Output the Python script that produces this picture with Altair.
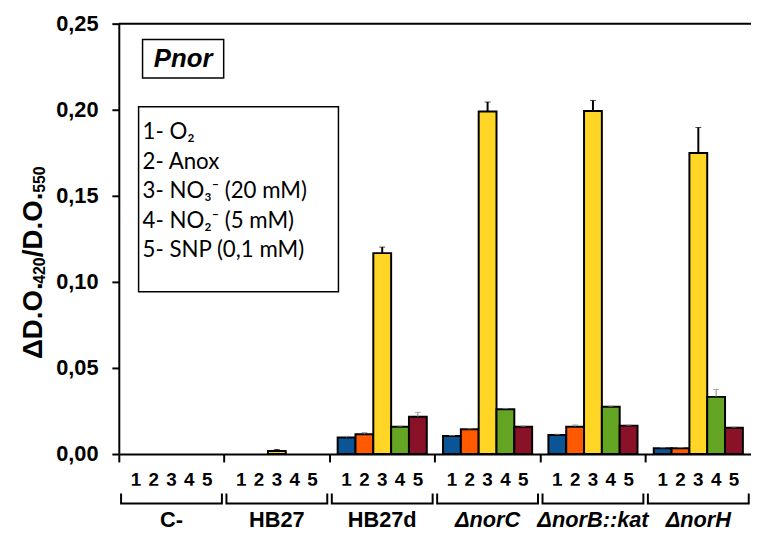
import altair as alt
import pandas as pd

# ---------------- data ----------------
strains = ["C-", "HB27", "HB27d", "ΔnorC", "ΔnorB::kat", "ΔnorH"]
italic_strains = ["ΔnorC", "ΔnorB::kat", "ΔnorH"]
conditions = ["1", "2", "3", "4", "5"]
cond_colors = ["#0B5596", "#FF5A00", "#FFD625", "#64A523", "#8A1228"]

c_minus_vals = [0.0, 0.0, 0.0, 0.0, 0.0]
hb27_vals = [0.0, 0.0, 0.0018, 0.0, 0.0]
hb27d_vals = [0.0096, 0.0115, 0.1167, 0.0159, 0.0217]
norc_vals = [0.0105, 0.0144, 0.1990, 0.0260, 0.0159]
norb_vals = [0.0111, 0.0159, 0.1992, 0.0274, 0.0165]
norh_vals = [0.0034, 0.0034, 0.1749, 0.0332, 0.0153]

c_minus_err = [0.0, 0.0, 0.0, 0.0, 0.0]
hb27_err = [0.0, 0.0, 0.0008, 0.0, 0.0]
hb27d_err = [0.0007, 0.0010, 0.0035, 0.0003, 0.0025]
norc_err = [0.0003, 0.0003, 0.0055, 0.0005, 0.0003]
norb_err = [0.0004, 0.0010, 0.0062, 0.0004, 0.0003]
norh_err = [0.0003, 0.0004, 0.0148, 0.0043, 0.0004]

legend_lines = ["1- O₂", "2- Anox", "3- NO₃⁻ (20 mM)", "4- NO₂⁻ (5 mM)", "5- SNP (0,1 mM)"]
panel_title = "Pnor"
y_title_main = ["ΔD.O.", "/D.O."]
y_title_sub = ["420", "550"]
y_ticks = [0.0, 0.05, 0.10, 0.15, 0.20, 0.25]

all_vals = [c_minus_vals, hb27_vals, hb27d_vals, norc_vals, norb_vals, norh_vals]
all_errs = [c_minus_err, hb27_err, hb27d_err, norc_err, norb_err, norh_err]

rows = []
for s, vals, errs in zip(strains, all_vals, all_errs):
    for c, v, e in zip(conditions, vals, errs):
        rows.append({"strain": s, "cond": c, "value": v, "err": e, "top": v + e})
bars_df = pd.DataFrame(rows)
strain_df = pd.DataFrame({"strain": strains,
                          "italic": [s in italic_strains for s in strains]})
one_df = pd.DataFrame({"k": [0]})

FONT = "Liberation Sans"

x_scale = alt.Scale(domain=strains, paddingInner=0, paddingOuter=0)
xo_scale = alt.Scale(domain=conditions, paddingInner=0, paddingOuter=0.456)

x_axis = alt.Axis(labels=False, title=None, domainColor="black", domainWidth=2,
                  tickColor="black", tickWidth=2, tickSize=8, bandPosition=0,
                  grid=False)
y_axis = alt.Axis(values=y_ticks,
                  labelExpr="replace(format(datum.value, '.2f'), '.', ',')",
                  labelFont=FONT, labelFontSize=22, labelFontWeight="bold",
                  labelColor="black", labelPadding=14,
                  tickSize=7, tickWidth=2, tickColor="black",
                  domainColor="black", domainWidth=2, grid=False, title=None)

X = alt.X("strain:N", scale=x_scale, axis=x_axis)
XO = alt.XOffset("cond:N", scale=xo_scale)
Y = alt.Y("value:Q", scale=alt.Scale(domain=[0, 0.25], nice=False), axis=y_axis)

base = alt.Chart(bars_df)

bars = base.transform_filter("datum.value > 0").mark_bar(
    stroke="black", strokeWidth=2
).encode(
    x=X, xOffset=XO, y=Y,
    color=alt.Color("cond:N", scale=alt.Scale(domain=conditions, range=cond_colors),
                    legend=None),
)

is_yellow = alt.datum.cond == "3"
err_rule = base.transform_filter("datum.err > 0").mark_rule().encode(
    x=X, xOffset=XO, y="value:Q", y2="top:Q",
    color=alt.condition(is_yellow, alt.value("black"), alt.value("#888888")),
    strokeWidth=alt.condition(is_yellow, alt.value(2), alt.value(1)),
)
err_cap = base.transform_filter("datum.err > 0").mark_tick(size=6).encode(
    x=X, xOffset=XO, y="top:Q",
    color=alt.condition(is_yellow, alt.value("black"), alt.value("#888888")),
    strokeWidth=alt.condition(is_yellow, alt.value(2.5), alt.value(1)),
)

numbers = base.mark_text(font=FONT, fontSize=19, fontWeight="bold",
                         baseline="middle", color="black").encode(
    x=X, xOffset=XO, y=alt.value(461), text="cond:N")

sbase = alt.Chart(strain_df)
bracket = sbase.mark_bar(filled=False, stroke="black", strokeWidth=2,
                         width=alt.RelativeBandSize(0.957)).encode(
    x=X, y=alt.value(471), y2=alt.value(485))
bracket_cover = sbase.mark_bar(color="white", width=alt.RelativeBandSize(1.0)).encode(
    x=X, y=alt.value(467), y2=alt.value(475))

names_normal = sbase.transform_filter("!datum.italic").mark_text(
    font=FONT, fontSize=22, fontWeight="bold", baseline="middle", color="black"
).encode(x=X, y=alt.value(502), text="strain:N")
names_italic = sbase.transform_filter("datum.italic").mark_text(
    font=FONT, fontSize=22, fontWeight="bold", fontStyle="italic",
    baseline="middle", color="black"
).encode(x=X, y=alt.value(502), text="strain:N")

obase = alt.Chart(one_df)
top_border = obase.mark_rule(color="black", strokeWidth=2).encode(
    x=alt.value(0), x2=alt.value(700), y=alt.value(0))

pnor_box = obase.mark_rect(fill="white", stroke="black", strokeWidth=1.5).encode(
    x=alt.value(24), x2=alt.value(106), y=alt.value(16), y2=alt.value(55))
pnor_text = obase.mark_text(font=FONT, fontSize=26, fontWeight="bold",
                            fontStyle="italic", color="black",
                            baseline="middle").encode(
    x=alt.value(65), y=alt.value(36), text=alt.value(panel_title))

leg_box = obase.mark_rect(fill="white", stroke="black", strokeWidth=1.5).encode(
    x=alt.value(20), x2=alt.value(222), y=alt.value(84), y2=alt.value(271))
leg_text = obase.mark_text(font="Lato", fontSize=22.5, color="black", align="left",
                           baseline="alphabetic", lineHeight=29.7).encode(
    x=alt.value(24), y=alt.value(117), text=alt.value(legend_lines))

# y-axis title built from pieces so the subscripts keep a readable size
def title_piece(txt, size, x, y):
    return obase.mark_text(font=FONT, fontSize=size, fontWeight="bold",
                           color="black", angle=270, align="left",
                           baseline="alphabetic").encode(
        x=alt.value(x), y=alt.value(y), text=alt.value(txt))

t1 = title_piece(y_title_main[0], 28, -78, 339)
t2 = title_piece(y_title_sub[0], 16, -75, 263)
t3 = title_piece(y_title_main[1], 28, -78, 236)
t4 = title_piece(y_title_sub[1], 16, -75, 171)

chart = alt.layer(
    bars, err_rule, err_cap, numbers, bracket, bracket_cover,
    names_normal, names_italic, top_border, pnor_box, pnor_text, leg_box, leg_text,
    t1, t2, t3, t4
).properties(
    width=639, height=435,
    autosize=alt.AutoSizeParams(type="none"),
    padding={"left": 112, "top": 13, "right": 0, "bottom": 78},
).configure_view(stroke=None)

chart.save("out.html", embed_options={"renderer": "svg", "actions": False})
